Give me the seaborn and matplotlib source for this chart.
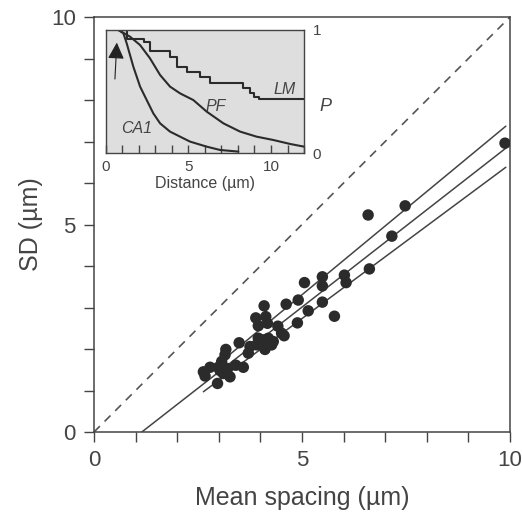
import matplotlib
matplotlib.use("Agg")
import matplotlib.pyplot as plt
import pandas as pd
import seaborn as sns

sns.set_style("ticks")
plt.rcParams['font.family'] = ['Liberation Sans', 'DejaVu Sans']

# scatter: mean spacing vs SD (um)
mean_spacing = [9.88, 7.48, 6.59, 7.16, 6.62, 6.02, 6.06, 5.49, 5.49, 5.06, 5.49, 5.78,
                4.91, 4.62, 5.15, 4.89, 4.09, 3.89, 4.13, 3.95, 4.17, 4.42, 4.51, 4.57,
                3.95, 4.07, 4.19, 4.27, 4.11, 3.91, 3.75, 3.71, 4.31, 3.49, 3.17, 3.15,
                3.59, 3.41, 3.21, 3.27, 3.11, 2.99, 2.79, 2.63, 2.67, 2.97, 3.03, 3.07]
sd = [6.96, 5.45, 5.23, 4.72, 3.93, 3.78, 3.60, 3.74, 3.52, 3.60, 3.13, 2.79,
      3.18, 3.08, 2.92, 2.63, 3.04, 2.75, 2.78, 2.56, 2.62, 2.55, 2.38, 2.32,
      2.26, 2.22, 2.26, 2.10, 1.99, 2.10, 2.06, 1.90, 2.18, 2.15, 1.99, 1.86,
      1.56, 1.61, 1.53, 1.33, 1.41, 1.56, 1.56, 1.45, 1.35, 1.17, 1.48, 1.70]

# regression line and its bounds (end points)
fit_x = [1.15, 9.9]
fit_y = [0.0, 6.84]
upper_x = [2.7, 9.9]
upper_y = [1.40, 7.37]
lower_x = [2.63, 9.9]
lower_y = [0.97, 6.38]
identity_x = [0, 10]
identity_y = [0, 10]

# inset: fraction P vs distance (um)
lm_x = [0.8, 1.3, 2.3, 2.7, 3.9, 4.3, 4.9, 5.7, 6.3, 8.3, 8.7, 9.0, 9.3, 12.0]
lm_y = [1.0, 0.93, 0.90, 0.83, 0.78, 0.70, 0.66, 0.62, 0.57, 0.53, 0.49, 0.46, 0.44, 0.44]
pf_x = [0.77, 1.47, 2.08, 2.68, 3.29, 3.89, 4.50, 5.30, 6.11, 7.12, 8.13, 9.13, 10.14, 11.15, 12.0]
pf_y = [1.0, 0.946, 0.878, 0.770, 0.635, 0.541, 0.486, 0.432, 0.338, 0.243, 0.176, 0.135, 0.108, 0.076, 0.054]
ca1_x = [0.77, 1.07, 1.27, 1.67, 2.08, 2.48, 2.88, 3.29, 3.89, 4.50, 5.10, 6.11, 6.92, 8.02]
ca1_y = [1.0, 0.973, 0.892, 0.703, 0.541, 0.432, 0.324, 0.243, 0.176, 0.135, 0.095, 0.054, 0.027, 0.014]

ink = '#2b2b2b'
grey = '#444444'
fig = plt.figure(figsize=(5.22, 5.19), dpi=100)
ax = fig.add_axes([0.180, 0.1676, 0.797, 0.7996])

sns.lineplot(x=identity_x, y=identity_y, ax=ax, color='#555555', lw=1.2,
             linestyle=(0, (5, 4)))
for lx, ly in [(fit_x, fit_y), (upper_x, upper_y), (lower_x, lower_y)]:
    sns.lineplot(x=lx, y=ly, ax=ax, color=grey, lw=1.1)
df = pd.DataFrame({'mean': mean_spacing, 'sd': sd})
sns.scatterplot(data=df, x='mean', y='sd', ax=ax, color=ink, s=68, edgecolor='none', zorder=3)

ax.set_xlim(0, 10)
ax.set_ylim(0, 10)
ax.set_xticks(range(0, 11))
ax.set_yticks(range(0, 11))
ax.set_xticklabels(['0', '', '', '', '', '5', '', '', '', '', '10'])
ax.set_yticklabels(['0', '', '', '', '', '5', '', '', '', '', '10'])
ax.tick_params(direction='out', length=7, width=1, color=grey, labelsize=16,
               labelcolor=grey, pad=6)
for sp in ax.spines.values():
    sp.set_color(grey)
    sp.set_linewidth(1.1)
ax.set_xlabel('Mean spacing (\u00b5m)', fontsize=18, color=grey, labelpad=11)
ax.set_ylabel('SD (\u00b5m)', fontsize=18, color=grey, labelpad=6)

# inset
ins = fig.add_axes([0.2025, 0.7046, 0.380, 0.2376])
ins.set_facecolor('#dedede')
sns.lineplot(x=lm_x, y=lm_y, ax=ins, color=ink, lw=1.5, drawstyle='steps-post')
sns.lineplot(x=pf_x, y=pf_y, ax=ins, color=ink, lw=1.5)
sns.lineplot(x=ca1_x, y=ca1_y, ax=ins, color=ink, lw=1.5)
ins.set_xlim(0, 12)
ins.set_ylim(0, 1)
ins.set_xticks(range(0, 13))
ins.set_xticklabels(['0', '', '', '', '', '5', '', '', '', '', '10', '', ''])
ins.set_yticks([0, 1])
ins.yaxis.tick_right()
ins.tick_params(axis='x', direction='in', length=6, width=1, color=grey,
                labelsize=11, labelcolor=grey, pad=5)
ins.tick_params(axis='y', length=0, labelsize=11, labelcolor=grey, pad=6)
for sp in ins.spines.values():
    sp.set_color(grey)
    sp.set_linewidth(1.0)
ins.set_xlabel('Distance (\u00b5m)', fontsize=11.5, color=grey, labelpad=1)
ins.yaxis.set_label_position('right')
ins.set_ylabel('P', fontsize=13, style='italic', rotation=0, color=grey)
ins.yaxis.set_label_coords(1.11, 0.45)
ins.text(10.85, 0.52, 'LM', fontsize=11.5, style='italic', color=grey, ha='center', va='center')
ins.text(6.67, 0.38, 'PF', fontsize=11.5, style='italic', color=grey, ha='center', va='center')
ins.text(1.87, 0.20, 'CA1', fontsize=11.5, style='italic', color=grey, ha='center', va='center')
ins.annotate('', xy=(0.68, 0.92), xytext=(0.55, 0.58),
             arrowprops=dict(arrowstyle='-|>,head_length=1.0,head_width=0.5',
                             color='#222222', lw=0.8))

fig.savefig('out.png', dpi=100)
